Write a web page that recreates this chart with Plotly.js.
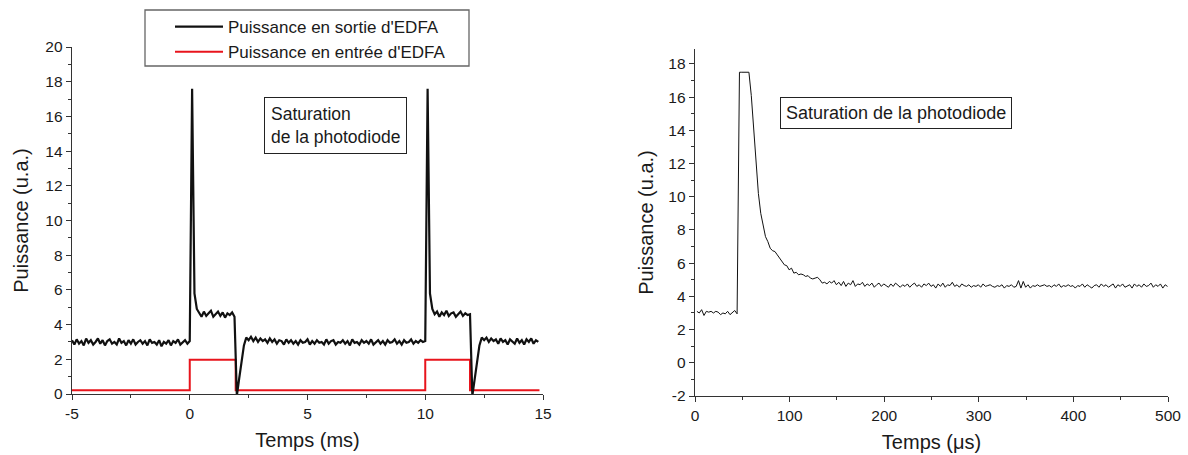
<!DOCTYPE html>
<html>
<head>
<meta charset="utf-8">
<script src="https://cdn.plot.ly/plotly-3.0.1.min.js"></script>
<style>html,body{margin:0;padding:0;background:#fff;} #chart{width:1188px;height:455px;}</style>
</head>
<body>
<div id="chart"></div>
<script>
// ---- Left panel: EDFA output / input power vs time (ms) ----
const leftStartMs = -5;
const leftStepMs = 0.1;
const sortieEDFA = [
  3.1,2.85,3.15,2.9,3.05,2.8,3.2,2.95,3.1,2.85,
  3.0,3.2,2.9,3.1,2.8,3.05,3.15,2.9,3.0,2.85,
  3.2,2.95,3.05,2.8,3.1,2.9,3.15,2.85,3.0,3.1,
  2.9,3.05,2.8,3.15,2.95,3.0,2.85,3.1,2.75,3.0,
  2.9,3.1,2.8,3.05,2.95,3.15,2.85,3.0,3.1,2.9,3.05,
  17.6,5.8,4.9,
  4.7,4.45,4.75,4.5,4.65,4.8,4.45,4.6,4.75,4.5,4.7,4.4,4.65,4.55,4.7,4.45,
  -0.1,0.9,1.9,2.8,3.25,
  3.1,3.3,3.05,3.25,3.0,3.2,3.05,3.15,2.95,3.2,
  3.0,3.15,2.9,3.1,3.05,2.85,3.15,2.95,3.1,2.9,
  3.05,2.85,3.1,2.95,3.0,3.15,2.85,3.05,2.9,3.1,
  2.95,3.0,2.85,3.15,2.9,3.05,3.1,2.85,3.0,2.95,
  3.1,2.9,3.05,2.8,3.15,2.95,3.0,2.85,3.1,2.95,
  3.05,2.9,3.15,2.85,3.0,3.1,2.9,3.05,2.85,3.1,
  2.95,3.0,3.15,2.9,3.05,2.85,3.1,2.95,3.0,3.15,
  2.9,3.05,2.95,3.1,3.0,
  3.05,17.6,5.8,4.9,
  4.6,4.75,4.45,4.7,4.55,4.8,4.5,4.65,4.7,4.45,4.6,4.75,4.5,4.65,4.55,4.6,
  -0.1,0.9,1.9,2.8,3.25,
  3.1,3.25,3.0,3.2,3.05,3.15,2.9,3.2,3.0,3.1,2.85,3.15,3.05,2.9,3.2,2.95,3.1,2.85,3.15,3.0,3.2,2.9,3.1,3.0
];
const entreeX = [-5, 0, 0, 1.95, 1.95, 10, 10, 11.9, 11.9, 14.85];
const entreeY = [0.22, 0.22, 1.97, 1.97, 0.22, 0.22, 1.97, 1.97, 0.22, 0.22];
const leftXTicks = [-5, 0, 5, 10, 15];
const leftXLabels = ['-5', '0', '5', '10', '15'];

// ---- Right panel: zoom on saturation, time in µs ----
const rightStartUs = 2;
const rightStepUs = 2.5;
const zoomSortie = [
  3.1,3.0,3.2,2.85,3.1,3.05,3.1,3.0,3.1,3.05,
  2.9,3.0,2.95,3.1,2.9,3.05,3.15,2.95,
  17.5,17.5,17.5,17.5,17.5,
  16.1,14.2,12.3,10.2,9.0,8.2,7.6,7.3,6.9,6.75,6.7,6.5,6.3,6.1,5.9,5.85,5.6,
  5.7,5.4,5.45,5.3,5.35,5.3,5.2,5.25,5.1,5.05,5.1,5.15,5.0,4.8,4.85,4.75,4.9,4.8,4.95,4.7,
  4.85,4.65,4.9,4.6,4.8,4.7,4.95,4.6,4.75,4.7,4.85,4.6,4.75,4.65,4.8,4.55,4.7,4.8,4.6,4.75,
  4.65,4.55,4.75,4.6,4.8,4.65,4.55,4.7,4.6,4.75,4.55,4.7,4.8,4.6,4.7,4.55,4.75,4.65,4.8,4.6,
  4.7,4.5,4.75,4.6,4.8,4.55,4.7,4.65,4.85,4.6,4.7,4.55,4.75,4.65,4.6,4.7,4.55,4.65,4.6,4.7,
  4.55,4.75,4.6,4.65,4.7,4.6,4.55,4.65,4.6,4.7,4.5,4.65,4.6,4.7,4.55,4.6,4.95,4.5,4.9,4.55,
  4.7,4.5,4.65,4.6,4.7,4.6,4.65,4.7,4.6,4.65,4.55,4.7,4.6,4.75,4.55,4.65,4.6,4.7,4.6,4.65,
  4.5,4.65,4.6,4.75,4.55,4.7,4.6,4.5,4.65,4.7,4.55,4.75,4.6,4.7,4.55,4.65,4.75,4.5,4.7,4.6,
  4.75,4.55,4.65,4.7,4.5,4.75,4.6,4.7,4.55,4.75,4.6,4.65,4.8,4.55,4.7,4.6,4.75,4.5,4.7,4.6
];
const rightYTicks = [-2, 0, 2, 4, 6, 8, 10, 12, 14, 16, 18];
const rightYLabels = ['-2', '0', '2', '4', '6', '8', '10', '12', '14', '16', '18'];

const legendNames = ["Puissance en sortie d'EDFA", "Puissance en entrée d'EDFA"];
const xTitles = ["Temps (ms)", "Temps (\u03bcs)"];
const yTitle = "Puissance (u.a.)";
const noteLeft = "Saturation<br>de la photodiode";
const noteRight = "Saturation de la photodiode";

const FONT = "Liberation Sans, Arial, sans-serif";
const TXT = "#1a1a1a";
const TICKSIZE = 15.5;
const TITLESIZE = 20;

const traces = [
  {x: entreeX, y: entreeY, type: 'scatter', mode: 'lines', name: legendNames[1],
   line: {color: '#e8141c', width: 2}, xaxis: 'x', yaxis: 'y'},
  {x0: leftStartMs, dx: leftStepMs, y: sortieEDFA, type: 'scatter', mode: 'lines', name: legendNames[0],
   line: {color: '#111111', width: 2.2}, xaxis: 'x', yaxis: 'y'},
  {x0: rightStartUs, dx: rightStepUs, y: zoomSortie, type: 'scatter', mode: 'lines', showlegend: false,
   line: {color: '#111111', width: 1}, xaxis: 'x2', yaxis: 'y2'}
];

function minor(d) {
  return {ticks: 'outside', ticklen: 3, tickwidth: 1, tickcolor: '#333', dtick: d, showgrid: false};
}
function axis(extra) {
  return Object.assign({
    showline: true, linecolor: '#333', linewidth: 1.3, mirror: false,
    showgrid: false, zeroline: false,
    ticks: 'outside', ticklen: 5, tickwidth: 1, tickcolor: '#333',
    tickfont: {family: FONT, size: TICKSIZE, color: TXT}
  }, extra);
}
function ttl(t, s) {
  return {text: t, font: {family: FONT, size: TITLESIZE, color: TXT}, standoff: s};
}

const layout = {
  width: 1188, height: 455,
  margin: {l: 0, r: 0, t: 0, b: 0},
  paper_bgcolor: '#fff', plot_bgcolor: '#fff',
  font: {family: FONT, color: TXT},
  showlegend: true,
  legend: {
    x: 170/1188, y: 1 - 9/455, xanchor: 'left', yanchor: 'top',
    traceorder: 'reversed', itemwidth: 48,
    bordercolor: 'rgba(0,0,0,0)', borderwidth: 0, bgcolor: 'rgba(0,0,0,0)',
    font: {family: FONT, size: 17, color: TXT}
  },
  shapes: [
    {type: 'rect', xref: 'paper', yref: 'paper',
     x0: 145/1188, x1: 469/1188, y0: 1 - 66/455, y1: 1 - 10/455,
     line: {color: '#666', width: 1.3}, fillcolor: 'rgba(0,0,0,0)', layer: 'below'}
  ],
  xaxis: axis({domain: [72/1188, 543/1188], range: [-5, 15],
    tickmode: 'array', tickvals: leftXTicks, ticktext: leftXLabels,
    minor: minor(2.5), title: ttl(xTitles[0], 12), anchor: 'y'}),
  yaxis: axis({domain: [1 - 394/455, 1 - 47/455], range: [0, 20], dtick: 2,
    minor: minor(1), title: ttl(yTitle, 11), anchor: 'x'}),
  xaxis2: axis({domain: [695/1188, 1168/1188], range: [0, 500], dtick: 100, tick0: 0,
    minor: minor(50), title: ttl(xTitles[1], 12), anchor: 'y2'}),
  yaxis2: axis({domain: [1 - 396/455, 1 - 49/455], range: [-2, 18.9],
    tickmode: 'array', tickvals: rightYTicks, ticktext: rightYLabels,
    minor: minor(1), title: ttl(yTitle, 9), anchor: 'x2'}),
  annotations: [
    {xref: 'paper', yref: 'paper', x: 264/1188, y: 1 - 97/455, xanchor: 'left', yanchor: 'top',
     text: noteLeft, align: 'left', showarrow: false,
     font: {family: FONT, size: 17.5, color: TXT},
     bordercolor: '#222', borderwidth: 1, borderpad: 6, bgcolor: '#fff'},
    {xref: 'paper', yref: 'paper', x: 780/1188, y: 1 - 97/455, xanchor: 'left', yanchor: 'top',
     text: noteRight, align: 'left', showarrow: false,
     font: {family: FONT, size: 18, color: TXT},
     bordercolor: '#222', borderwidth: 1, borderpad: 5, bgcolor: '#fff'}
  ]
};

Plotly.newPlot('chart', traces, layout, {staticPlot: true, displayModeBar: false});
</script>
</body>
</html>
